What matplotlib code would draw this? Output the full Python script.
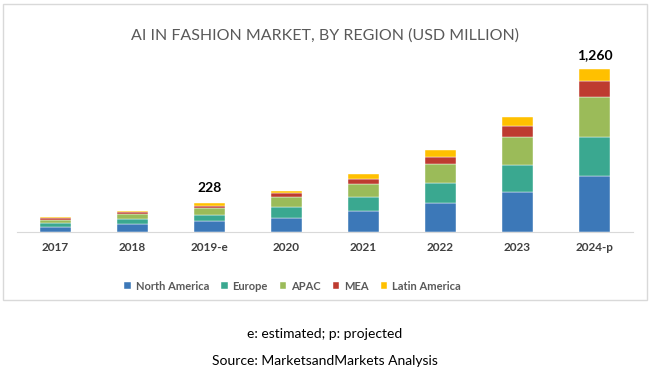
import numpy as np
import matplotlib
matplotlib.use("Agg")
import matplotlib.pyplot as plt
from matplotlib.patches import Rectangle

plt.rcParams['font.family'] = ['Lato', 'DejaVu Sans']

years = ["2017", "2018", "2019-e", "2020", "2021", "2022", "2023", "2024-p"]
north_america = [41, 62, 83, 111, 162, 224, 306, 433]
europe = [31, 36, 51, 80, 105, 152, 216, 298]
apac = [24, 44, 52, 77, 103, 147, 216, 315]
mea = [12, 10, 18, 31, 43, 60, 83, 121]
latin_america = [11, 8, 24, 18, 34, 52, 72, 93]
labels = {2: "228", 7: "1,260"}

series = [("North America", north_america, "#3C78B8"),
          ("Europe", europe, "#3AA890"),
          ("APAC", apac, "#9BBB59"),
          ("MEA", mea, "#BE3B30"),
          ("Latin America", latin_america, "#FFC000")]

fig = plt.figure(figsize=(6.5, 3.81), dpi=100)
ax = fig.add_axes([17 / 650, 149 / 381, 616 / 650, 181 / 381])

x = np.arange(len(years))
bottom = np.zeros(len(years))
for name, vals, col in series:
    ax.bar(x, vals, 0.4, bottom=bottom, color=col, label=name,
           edgecolor="white", linewidth=0.3)
    bottom += np.array(vals)

for i, txt in labels.items():
    ax.annotate(txt, (x[i], bottom[i]), xytext=(0, 6), textcoords="offset points",
                ha="center", va="bottom", fontsize=10, fontweight="bold", color="black")

ax.set_xlim(-0.5, len(years) - 0.5)
ax.set_ylim(0, 1400)
ax.set_xticks(x)
ax.set_xticklabels(years, fontsize=8.5, fontweight="bold", color="#404040")
ax.tick_params(axis="x", length=0, pad=7)
ax.set_yticks([])
for s in ["top", "right", "left"]:
    ax.spines[s].set_visible(False)
ax.spines["bottom"].set_color("#D9D9D9")

fig.text(0.5, 1 - 36 / 381, "AI IN FASHION MARKET, BY REGION (USD MILLION)",
         ha="center", va="center", fontsize=11.5, color="#595959")

fig.legend(loc="center", bbox_to_anchor=(0.45, 1 - 286 / 381), ncol=5, frameon=False,
           handlelength=0.6, handleheight=0.6, handletextpad=0.4,
           columnspacing=1.1, labelcolor="#595959",
           prop={"weight": "bold", "size": 8})

fig.patches.append(Rectangle((3 / 650, 1 - 300 / 381), 644 / 650, 296 / 381,
                             transform=fig.transFigure, fill=False,
                             edgecolor="#D9D9D9", linewidth=1))

fig.text(0.5, 1 - 334 / 381, "e: estimated; p: projected", ha="center", va="center",
         fontsize=10, color="black")
fig.text(0.5, 1 - 361 / 381, "Source: MarketsandMarkets Analysis", ha="center",
         va="center", fontsize=10, color="black")

fig.savefig("out.png", dpi=100)
